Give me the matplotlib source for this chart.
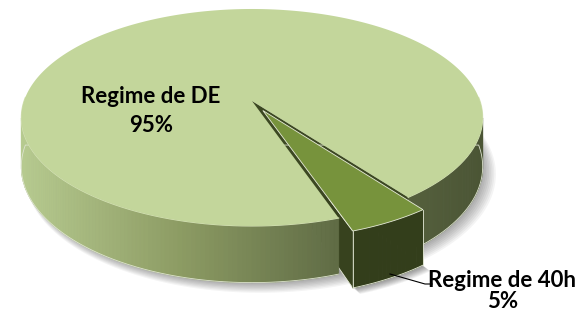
import numpy as np
import matplotlib.pyplot as plt
from matplotlib.patches import Polygon
from matplotlib.colors import to_rgb

# data
labels = ['Regime de DE', 'Regime de 40h']
values = [95, 5]
explode = [0.0, 0.1]

# styles
top_colors = ['#C3D69B', '#77933C']
side_colors = ['#3C4822', '#37421E']
slice_wall = '#333E1B'
wall_stops = [(0.0, '#B7CB90'), (0.35, '#8C9B63'), (0.7, '#5E6A44'), (1.0, '#4B5535')]

# pseudo-3D projection (unit disc -> pixels)
CX, CY, A, B, K, D = 252, 101, 228, 106, 0.152, 48
START = -53.0


def project(u, v, low=False):
    w = 1 + K * v
    x = CX + A * u / w
    y = CY - B * v / w
    if low:
        y = y + D / w
    return x, y


def area(pts):
    pts = np.asarray(pts)
    x, y = pts[:, 0], pts[:, 1]
    return 0.5 * np.sum(x * np.roll(y, -1) - np.roll(x, -1) * y)


def wall_color(x):
    t = np.clip((x - 21) / (482 - 21), 0, 1)
    for (t0, c0), (t1, c1) in zip(wall_stops[:-1], wall_stops[1:]):
        if t <= t1:
            f = (t - t0) / (t1 - t0)
            return tuple(np.array(to_rgb(c0)) * (1 - f) + np.array(to_rgb(c1)) * f)
    return to_rgb(wall_stops[-1][1])


fig = plt.figure(figsize=(5.82, 3.13), dpi=100)
ax = fig.add_axes([0, 0, 1, 1])
ax.set_xlim(0, 582)
ax.set_ylim(313, 0)
ax.axis('off')

total = sum(values)
angles = [START]
for v in values:
    angles.append(angles[-1] + 360.0 * v / total)

# geometry of every slice
pieces = []
for i, v in enumerate(values):
    t1, t2 = np.radians(angles[i]), np.radians(angles[i + 1])
    mid = 0.5 * (t1 + t2)
    eu, ev = explode[i] * np.cos(mid), explode[i] * np.sin(mid)
    th = np.linspace(t1, t2, max(int(np.degrees(t2 - t1)), 4) + 1)
    ru, rv = eu + np.cos(th), ev + np.sin(th)
    pieces.append(dict(
        th=th,
        top=np.c_[project(ru, rv)],
        bot=np.c_[project(ru, rv, low=True)],
        ct=np.array(project(eu, ev)),
        cb=np.array(project(eu, ev, low=True)),
        ec='#E6EBD8' if explode[i] > 0 else 'none',
    ))

# soft shadows on the ground
th_all = np.radians(np.linspace(0, 360, 200))
for k in range(10):
    off = 3 + k * 1.2
    xs, ys = project(np.cos(th_all) * (0.985 + 0.004 * k), np.sin(th_all) * (0.985 + 0.004 * k), low=True)
    ax.add_patch(Polygon(np.c_[xs + off * 0.6, ys + off * 0.5], closed=True,
                         facecolor='#000000', edgecolor='none', alpha=0.045, zorder=1))
for i, p in enumerate(pieces):
    if explode[i] > 0:
        poly = np.vstack([p['cb'], p['bot']])
        for k in range(8):
            off = 3 + k * 1.3
            ax.add_patch(Polygon(poly + [off * 0.6, off * 0.5], closed=True,
                                 facecolor='#000000', edgecolor='none', alpha=0.05, zorder=1))


def draw_cut_faces(i, p, z):
    f1 = [p['ct'], p['top'][0], p['bot'][0], p['cb']]
    f2 = [p['top'][-1], p['ct'], p['cb'], p['bot'][-1]]
    for f in (f1, f2):
        if area(f) > 0:
            ax.add_patch(Polygon(f, closed=True, facecolor=side_colors[i],
                                 edgecolor=p['ec'], lw=0.6, zorder=z))


def draw_wall_top(i, p, z):
    top, bot, th = p['top'], p['bot'], p['th']
    for j in range(len(th) - 1):
        q = [top[j], top[j + 1], bot[j + 1], bot[j]]
        if area(q) > 0:
            c = slice_wall if explode[i] > 0 else wall_color(0.5 * (top[j][0] + top[j + 1][0]))
            ax.add_patch(Polygon(q, closed=True, facecolor=c, edgecolor=c, lw=0.6, zorder=z))
    if explode[i] > 0:
        ec = p['ec']
        ax.plot(bot[:, 0], bot[:, 1], color=ec, lw=0.6, zorder=z + 1)
        ax.plot([top[0][0], bot[0][0]], [top[0][1], bot[0][1]], color=ec, lw=0.6, zorder=z + 1)
        ax.plot([top[-1][0], bot[-1][0]], [top[-1][1], bot[-1][1]], color=ec, lw=0.6, zorder=z + 1)
    else:
        front = [j for j in range(len(th)) if np.sin(th[j]) < 0.05]
        ax.plot(bot[front, 0], bot[front, 1], color='#DDE3CF', lw=0.6, zorder=z + 1)
        ax.plot(top[front, 0], top[front, 1], color='#D6E2B8', lw=0.8, zorder=z + 2)
    ax.add_patch(Polygon(np.vstack([p['ct'], top]), closed=True, facecolor=top_colors[i],
                         edgecolor=p['ec'], lw=0.6, zorder=z + 2))


# the exploded slice's cut faces sit behind the main body
draw_cut_faces(1, pieces[1], 2)
draw_cut_faces(0, pieces[0], 3)
draw_wall_top(0, pieces[0], 4)
draw_wall_top(1, pieces[1], 10)

# labels
pct = [f'{v / total * 100:.0f}%' for v in values]
font = dict(family='Lato', fontweight='bold', fontsize=16, color='black', zorder=50)
ax.text(151, 103, labels[0], ha='center', va='baseline', **font)
ax.text(151, 132, pct[0], ha='center', va='baseline', **font)
ax.text(502, 287, labels[1], ha='center', va='baseline', **font)
ax.text(503, 312, pct[1], ha='center', va='bottom', **font)
ax.plot([390, 425, 432], [274, 284, 284], color='black', lw=0.8, zorder=40)

fig.savefig('out.png', dpi=100)
